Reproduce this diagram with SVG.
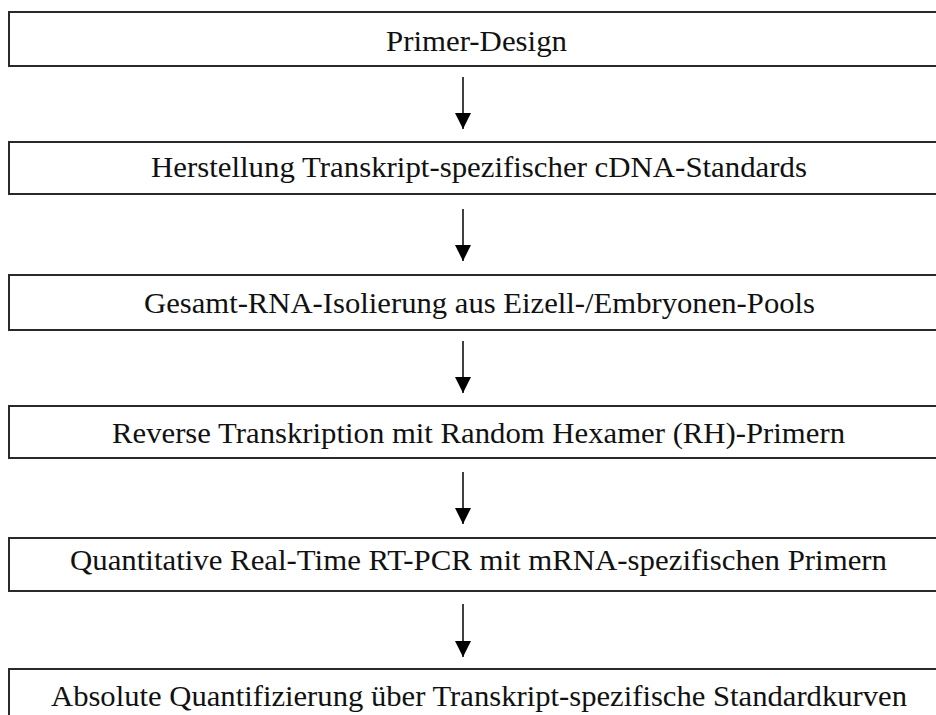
<svg xmlns="http://www.w3.org/2000/svg" width="936" height="715" viewBox="0 0 936 715">
<style>
.box{fill:#fff;stroke:#2a2a2a;stroke-width:2}
.lbl{font-family:"Liberation Serif","Times New Roman",serif;font-size:29px;fill:#111}
.con{stroke:#111;stroke-width:1.6;fill:none}
</style>
<defs>
<marker id="ah" markerUnits="userSpaceOnUse" markerWidth="18" markerHeight="18" refX="16" refY="8" orient="auto">
<path d="M0,0 L16,8 L0,16 Z" fill="#000"/>
</marker>
</defs>
<rect width="936" height="715" fill="#fff"/>
<g id="n1"><rect class="box" x="9" y="12" width="940" height="54"/><text class="lbl" x="386" y="51" textLength="181" lengthAdjust="spacingAndGlyphs">Primer-Design</text></g>
<g id="n2"><rect class="box" x="9" y="142" width="940" height="52"/><text class="lbl" x="151" y="177" textLength="656" lengthAdjust="spacingAndGlyphs">Herstellung Transkript-spezifischer cDNA-Standards</text></g>
<g id="n3"><rect class="box" x="9" y="275" width="940" height="55"/><text class="lbl" x="144" y="313" textLength="671" lengthAdjust="spacingAndGlyphs">Gesamt-RNA-Isolierung aus Eizell-/Embryonen-Pools</text></g>
<g id="n4"><rect class="box" x="9" y="406" width="940" height="52"/><text class="lbl" x="112" y="443" textLength="733" lengthAdjust="spacingAndGlyphs">Reverse Transkription mit Random Hexamer (RH)-Primern</text></g>
<g id="n5"><rect class="box" x="9" y="538" width="940" height="53"/><text class="lbl" x="70" y="570" textLength="817" lengthAdjust="spacingAndGlyphs">Quantitative Real-Time RT-PCR mit mRNA-spezifischen Primern</text></g>
<g id="n6"><rect class="box" x="9" y="669" width="940" height="60"/><text class="lbl" x="51" y="706" textLength="856" lengthAdjust="spacingAndGlyphs">Absolute Quantifizierung über Transkript-spezifische Standardkurven</text></g>
<g id="connectors">
<line class="con" x1="463" y1="77" x2="463" y2="129" marker-end="url(#ah)"/>
<line class="con" x1="463" y1="209" x2="463" y2="261" marker-end="url(#ah)"/>
<line class="con" x1="463" y1="341" x2="463" y2="393" marker-end="url(#ah)"/>
<line class="con" x1="463" y1="472" x2="463" y2="524" marker-end="url(#ah)"/>
<line class="con" x1="463" y1="604" x2="463" y2="657" marker-end="url(#ah)"/>
</g>
</svg>
